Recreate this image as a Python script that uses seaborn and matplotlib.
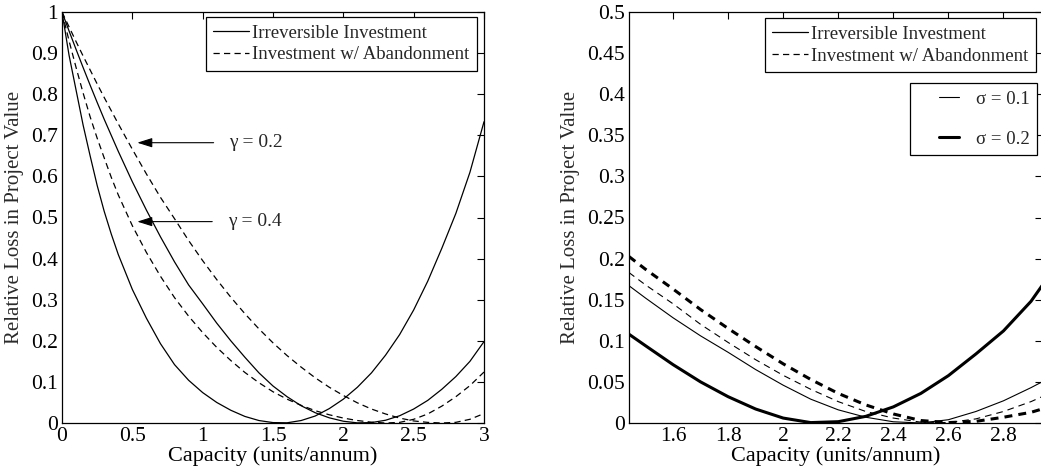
import pandas as pd
import matplotlib.pyplot as plt
import seaborn as sns
from matplotlib.lines import Line2D
from matplotlib.legend_handler import HandlerLine2D

# ---- data ----
# left panel: capacity grid and relative loss curves
cap_left = [0, 0.05, 0.1, 0.15, 0.2, 0.25, 0.3, 0.35, 0.4, 0.5, 0.6, 0.7, 0.8, 0.9, 1.0, 1.1,
            1.2, 1.3, 1.4, 1.5, 1.6, 1.7, 1.8, 1.9, 2.0, 2.1, 2.2, 2.3, 2.4, 2.5, 2.6, 2.7,
            2.8, 2.9, 3.0]
irr_g04 = [1.0, 0.895, 0.81, 0.725, 0.65, 0.578, 0.515, 0.46, 0.41, 0.325, 0.255, 0.193,
           0.142, 0.104, 0.074, 0.05, 0.031, 0.016, 0.006, 0.001, 0.0005, 0.006, 0.017,
           0.035, 0.058, 0.087, 0.122, 0.165, 0.215, 0.275, 0.345, 0.425, 0.51, 0.61, 0.733]
aban_g04 = [1.0, 0.93, 0.865, 0.803, 0.745, 0.693, 0.645, 0.598, 0.555, 0.48, 0.415, 0.357,
            0.305, 0.26, 0.22, 0.184, 0.152, 0.123, 0.098, 0.076, 0.058, 0.043, 0.03, 0.02,
            0.012, 0.006, 0.002, 0.0, 0.0015, 0.009, 0.022, 0.041, 0.064, 0.091, 0.124]
irr_g02 = [1.0, 0.954, 0.909, 0.865, 0.822, 0.78, 0.739, 0.70, 0.661, 0.587, 0.518, 0.453,
           0.392, 0.336, 0.29, 0.243, 0.2, 0.16, 0.122, 0.09, 0.064, 0.042, 0.025, 0.0126,
           0.0043, 0.0003, 0.001, 0.0067, 0.0176, 0.034, 0.055, 0.082, 0.113, 0.15, 0.198]
aban_g02 = [1.0, 0.964, 0.928, 0.893, 0.859, 0.825, 0.792, 0.76, 0.728, 0.666, 0.606, 0.549,
            0.497, 0.444, 0.395, 0.349, 0.306, 0.266, 0.229, 0.195, 0.164, 0.136, 0.11,
            0.087, 0.067, 0.049, 0.034, 0.022, 0.012, 0.005, 0.0015, 0.0, 0.0016, 0.009,
            0.023]

# right panel: zoomed capacity range, two volatilities
cap_right = [1.44, 1.5, 1.6, 1.7, 1.8, 1.9, 2.0, 2.1, 2.2, 2.3, 2.4, 2.5, 2.6, 2.7, 2.8, 2.9, 2.94]
irr_s01 = [0.167, 0.152, 0.128, 0.106, 0.086, 0.065, 0.046, 0.029, 0.016, 0.007, 0.0015,
           0.0, 0.004, 0.014, 0.027, 0.043, 0.05]
aban_s01 = [0.183, 0.168, 0.145, 0.12, 0.098, 0.077, 0.058, 0.041, 0.026, 0.014, 0.006,
            0.001, 0.0005, 0.005, 0.014, 0.026, 0.032]
irr_s02 = [0.108, 0.094, 0.071, 0.05, 0.032, 0.017, 0.006, 0.0005, 0.0016, 0.0081, 0.0196,
           0.036, 0.0576, 0.084, 0.112, 0.148, 0.167]
aban_s02 = [0.2025, 0.187, 0.163, 0.138, 0.115, 0.093, 0.072, 0.053, 0.036, 0.022, 0.011,
            0.003, 0.0005, 0.002, 0.007, 0.013, 0.017]

left_xticks = [0, 0.5, 1, 1.5, 2, 2.5, 3]
left_xlabels = ['0', '0.5', '1', '1.5', '2', '2.5', '3']
left_yticks = [0, 0.1, 0.2, 0.3, 0.4, 0.5, 0.6, 0.7, 0.8, 0.9, 1]
left_ylabels = ['0', '0.1', '0.2', '0.3', '0.4', '0.5', '0.6', '0.7', '0.8', '0.9', '1']
right_xticks = [1.6, 1.8, 2.0, 2.2, 2.4, 2.6, 2.8]
right_xlabels = ['1.6', '1.8', '2', '2.2', '2.4', '2.6', '2.8']
right_yticks = [0, 0.05, 0.1, 0.15, 0.2, 0.25, 0.3, 0.35, 0.4, 0.45, 0.5]
right_ylabels = ['0', '0.05', '0.1', '0.15', '0.2', '0.25', '0.3', '0.35', '0.4', '0.45', '0.5']

# ---- style ----
sns.set_theme(style='white')
plt.rcParams['font.family'] = ['Liberation Serif', 'DejaVu Serif']
plt.rcParams['axes.edgecolor'] = 'black'
plt.rcParams['axes.linewidth'] = 0.9

fig = plt.figure(figsize=(10.41, 4.71), dpi=100)
ax1 = fig.add_axes([62 / 1041, 48 / 471, 422 / 1041, 411 / 471])
ax2 = fig.add_axes([629 / 1041, 48 / 471, 413 / 1041, 411 / 471])


def draw(ax, x, y, lw, dashes=None):
    sns.lineplot(x=x, y=y, ax=ax, color='black', lw=lw, estimator=None, sort=False)
    if dashes is not None:
        ax.lines[-1].set_dashes(dashes)


# left panel
draw(ax1, cap_left, irr_g04, 0.9)
draw(ax1, cap_left, aban_g04, 0.9, (5.0, 3.4))
draw(ax1, cap_left, irr_g02, 0.9)
draw(ax1, cap_left, aban_g02, 0.9, (5.0, 3.4))

# right panel
draw(ax2, cap_right, irr_s01, 0.8)
draw(ax2, cap_right, aban_s01, 0.8, (6.0, 4.5))
draw(ax2, cap_right, irr_s02, 2.2)
draw(ax2, cap_right, aban_s02, 2.2, (2.6, 2.0))

ax1.set_xlim(0, 3)
ax1.set_ylim(0, 1)
ax2.set_xlim(1.44, 2.94)
ax2.set_ylim(0, 0.5)

for ax, xt, xl, yt, yl in [(ax1, left_xticks, left_xlabels, left_yticks, left_ylabels),
                           (ax2, right_xticks, right_xlabels, right_yticks, right_ylabels)]:
    ax.set_xticks(xt)
    ax.set_xticklabels(xl)
    ax.set_yticks(yt)
    ax.set_yticklabels(yl)
    ax.tick_params(direction='in', top=True, right=True, length=5, width=0.8,
                   labelsize=15.5, pad=3, colors='black')
    ax.set_xlabel('Capacity (units/annum)', fontsize=16, labelpad=0, color='black')
    ax.set_ylabel('Relative Loss in Project Value', fontsize=15, labelpad=5, color='#2a2a2a')
    for s in ax.spines.values():
        s.set_color('black')
        s.set_linewidth(0.9)

# legends
style_handles = [Line2D([0], [0], color='black', lw=0.9),
                 Line2D([0], [0], color='black', lw=0.9, dashes=(5.0, 3.4))]
style_labels = ['Irreversible Investment', 'Investment w/ Abandonment']

for ax, anchor in [(ax1, (0.984, 0.988)), (ax2, (0.986, 0.985))]:
    leg = ax.legend(style_handles, style_labels, loc='upper right', bbox_to_anchor=anchor,
                    borderaxespad=0, fontsize=13.5, frameon=True, fancybox=False,
                    edgecolor='black', framealpha=1, handlelength=1.9, handletextpad=0.2,
                    borderpad=0.4, labelspacing=0.25)
    leg.get_frame().set_linewidth(0.9)

ax2.add_artist(ax2.get_legend())
sig_handles = [Line2D([0], [0], color='black', lw=0.8),
               Line2D([0], [0], color='black', lw=2.2)]
leg2 = ax2.legend(sig_handles, ['σ = 0.1', 'σ = 0.2'], loc='upper right',
                  bbox_to_anchor=(0.9886, 0.8265), borderaxespad=0, fontsize=13.5,
                  frameon=True, fancybox=False, edgecolor='black', framealpha=1,
                  handlelength=2.2, handletextpad=0.9, borderpad=0.4, labelspacing=1.2,
                  handler_map={Line2D: HandlerLine2D(xpad=1.1)})
leg2.get_frame().set_linewidth(0.9)

# gamma annotations
arrow = dict(arrowstyle='-|>,head_length=0.7,head_width=0.22', color='black', lw=0.8,
             shrinkA=9, shrinkB=0, mutation_scale=13)
ax1.annotate('γ = 0.2', xy=(0.535, 0.682), xytext=(1.19, 0.682), fontsize=14,
             va='center', ha='left', arrowprops=arrow)
ax1.annotate('γ = 0.4', xy=(0.535, 0.49), xytext=(1.18, 0.49), fontsize=14,
             va='center', ha='left', arrowprops=arrow)

fig.savefig('out.png', dpi=100, facecolor='white')
